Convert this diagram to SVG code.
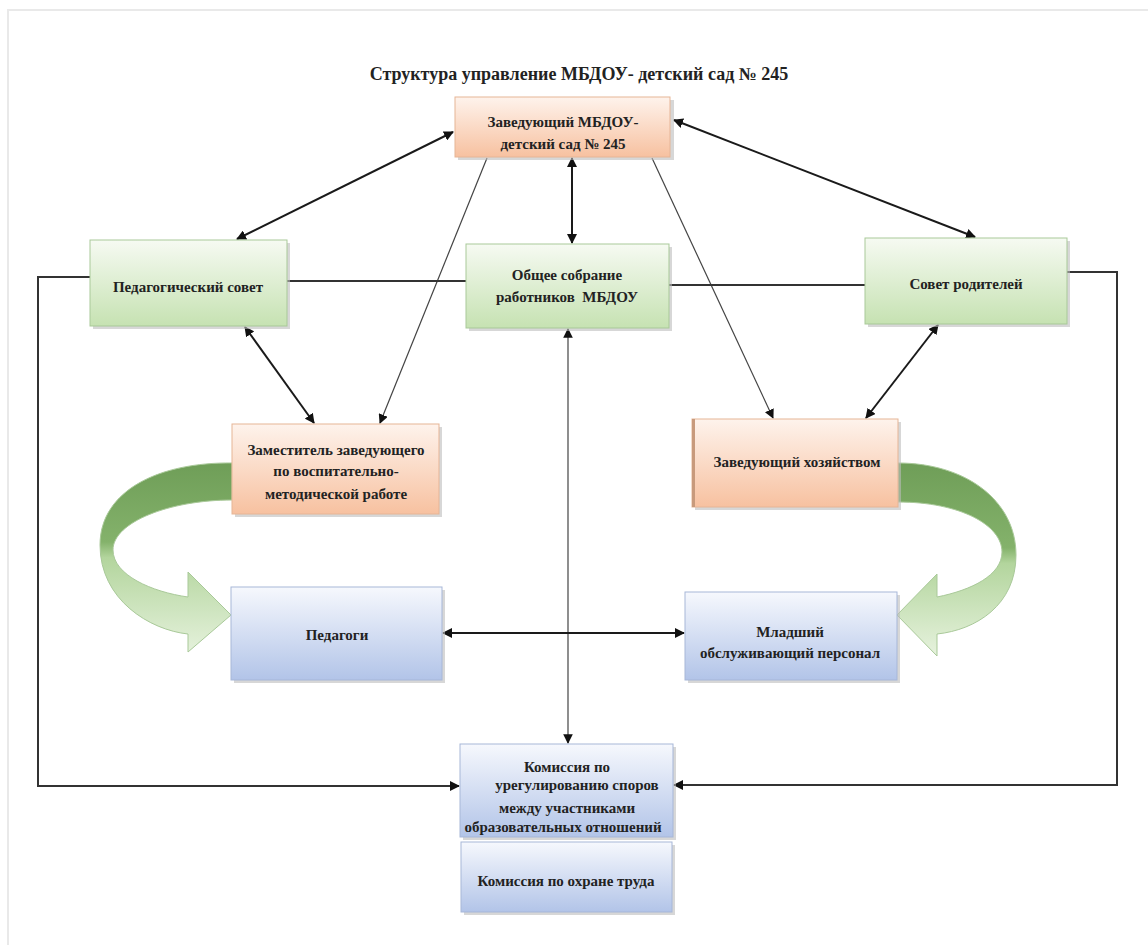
<svg xmlns="http://www.w3.org/2000/svg" width="1148" height="945" viewBox="0 0 1148 945">
<defs>
<linearGradient id="gGreen" x1="0" y1="0" x2="0" y2="1">
<stop offset="0" stop-color="#f6faf2"/><stop offset="1" stop-color="#c6e2b2"/>
</linearGradient>
<linearGradient id="gOrange" x1="0" y1="0" x2="0" y2="1">
<stop offset="0" stop-color="#fef3ec"/><stop offset="1" stop-color="#f7c1a0"/>
</linearGradient>
<linearGradient id="gBlue" x1="0" y1="0" x2="0" y2="1">
<stop offset="0" stop-color="#f6f8fd"/><stop offset="1" stop-color="#b2c4e8"/>
</linearGradient>
<linearGradient id="gArrowL" gradientUnits="userSpaceOnUse" x1="0" y1="460" x2="0" y2="655">
<stop offset="0" stop-color="#6e9d57"/><stop offset="0.42" stop-color="#84b26b"/><stop offset="0.5" stop-color="#b3d59d"/><stop offset="1" stop-color="#e6f2dd"/>
</linearGradient>
<linearGradient id="gArrowR" gradientUnits="userSpaceOnUse" x1="0" y1="460" x2="0" y2="655">
<stop offset="0" stop-color="#6e9d57"/><stop offset="0.45" stop-color="#84b26b"/><stop offset="0.53" stop-color="#b3d59d"/><stop offset="1" stop-color="#e6f2dd"/>
</linearGradient>
<marker id="ah" viewBox="0 0 10 10" refX="9" refY="5" markerWidth="5" markerHeight="5" orient="auto-start-reverse">
<path d="M0,0 L10,5 L0,10 z" fill="#111"/>
</marker>
<marker id="ahT" viewBox="0 0 10 10" refX="9" refY="5" markerWidth="8" markerHeight="8" orient="auto-start-reverse">
<path d="M0,0 L10,5 L0,10 z" fill="#111"/>
</marker>
</defs>
<style>
text{font-family:'Liberation Serif','DejaVu Serif',serif;font-weight:bold;fill:#222;text-anchor:middle}
.n{font-size:15px}
.sh{fill:#bdbdbd;opacity:0.6}
.bg{stroke:#a9c999;stroke-width:1;fill:url(#gGreen)}
.bo{stroke:#e6b596;stroke-width:1;fill:url(#gOrange)}
.bb{stroke:#a7b7d8;stroke-width:1;fill:url(#gBlue)}
.thick{stroke:#1a1a1a;stroke-width:2;fill:none}
.thin{stroke:#444;stroke-width:1.2;fill:none}
.plain{stroke:#333;stroke-width:2;fill:none}
</style>
<rect width="1148" height="945" fill="#ffffff"/>
<path d="M8 945 L8 10 L1148 10" fill="none" stroke="#e9e9e9" stroke-width="2"/>

<text x="579" y="80" font-size="18">Структура управление МБДОУ- детский сад № 245</text>

<g id="arrows-curved">
<path d="M232 463 C160 462 100 490 100 545 C100 600 150 630 188 634 L188 652 L231 615 L188 572 L188 597 C152 592 113 575 113 550 C113 522 170 500 232 500 Z" fill="url(#gArrowL)" stroke="#a9c999" stroke-width="1"/>
<path d="M898 463 C965 463 1016 500 1016 555 C1016 605 976 630 937 634 L937 656 L897 615 L937 574 L937 597 C972 590 1002 575 1002 552 C1002 525 960 502 898 502 Z" fill="url(#gArrowR)" stroke="#a9c999" stroke-width="1"/>
</g>

<g id="connectors">
<path class="thick" d="M453 132 L237 239" marker-start="url(#ah)" marker-end="url(#ah)"/>
<path class="thick" d="M674 120 L975 237" marker-start="url(#ah)" marker-end="url(#ah)"/>
<path class="thick" d="M572 158 L572 243" marker-start="url(#ah)" marker-end="url(#ah)"/>
<path class="thin" d="M487 158 L380 423" marker-end="url(#ahT)"/>
<path class="thin" d="M652 158 L773 418" marker-end="url(#ahT)"/>
<path class="thick" d="M245 327 L314 423" marker-start="url(#ah)" marker-end="url(#ah)"/>
<path class="thick" d="M938 325 L866 418" marker-start="url(#ah)" marker-end="url(#ah)"/>
<path class="plain" d="M287 281 L466 281"/>
<path class="plain" d="M669 285 L865 285"/>
<path class="plain" d="M90 277 L38 277 L38 786 L459 786" marker-end="url(#ah)"/>
<path class="plain" d="M1067 272 L1117 272 L1117 785 L674 785" marker-end="url(#ah)"/>
<path class="thin" d="M568 329 L568 743" marker-start="url(#ahT)" marker-end="url(#ahT)"/>
<path class="thick" d="M443 633 L684 633" marker-start="url(#ah)" marker-end="url(#ah)"/>
</g>

<g id="node-zav">
<rect class="sh" x="458" y="100" width="216" height="60"/>
<rect class="bo" x="455" y="97" width="215" height="60"/>
<text class="n" x="563" y="127">Заведующий МБДОУ-</text>
<text class="n" x="563" y="149">детский сад № 245</text>
</g>

<g id="node-pedsovet">
<rect class="sh" x="93" y="243" width="197" height="86"/>
<rect class="bg" x="90" y="240" width="197" height="86"/>
<text class="n" x="188" y="292">Педагогический совет</text>
</g>

<g id="node-obshee">
<rect class="sh" x="469" y="247" width="203" height="84"/>
<rect class="bg" x="466" y="244" width="203" height="84"/>
<text class="n" x="567" y="280">Общее собрание</text>
<text class="n" x="567" y="302" xml:space="preserve">работников  МБДОУ</text>
</g>

<g id="node-sovet">
<rect class="sh" x="868" y="241" width="202" height="86"/>
<rect class="bg" x="865" y="238" width="202" height="86"/>
<text class="n" x="966" y="289">Совет родителей</text>
</g>

<g id="node-zam">
<rect class="sh" x="235" y="427" width="207" height="90"/>
<rect class="bo" x="232" y="424" width="207" height="90"/>
<text class="n" x="336" y="455">Заместитель заведующего</text>
<text class="n" x="336" y="476">по воспитательно-</text>
<text class="n" x="336" y="499">методической работе</text>
</g>

<g id="node-zavhoz">
<rect class="sh" x="695" y="422" width="206" height="88"/>
<rect class="bo" x="692" y="419" width="206" height="88"/>
<rect x="692" y="419" width="3" height="88" fill="#c89a7c"/>
<text class="n" x="797" y="467">Заведующий хозяйством</text>
</g>

<g id="node-pedagogi">
<rect class="sh" x="234" y="590" width="211" height="93"/>
<rect class="bb" x="231" y="587" width="211" height="93"/>
<text class="n" x="337" y="640">Педагоги</text>
</g>

<g id="node-mladshiy">
<rect class="sh" x="688" y="595" width="212" height="88"/>
<rect class="bb" x="685" y="592" width="212" height="88"/>
<text class="n" x="790" y="637">Младший</text>
<text class="n" x="790" y="658">обслуживающий персонал</text>
</g>

<g id="node-komissiya">
<rect class="sh" x="463" y="747" width="213" height="93"/>
<rect class="bb" x="460" y="744" width="213" height="93"/>
<text class="n" x="567" y="772">Комиссия по</text>
<text class="n" x="577" y="790">урегулированию споров</text>
<text class="n" x="567" y="813">между участниками</text>
<text class="n" x="563" y="832">образовательных отношений</text>
</g>

<g id="node-ohrana">
<rect class="sh" x="464" y="845" width="211" height="70"/>
<rect class="bb" x="461" y="842" width="211" height="70"/>
<text class="n" x="566" y="886">Комиссия по охране труда</text>
</g>
</svg>
